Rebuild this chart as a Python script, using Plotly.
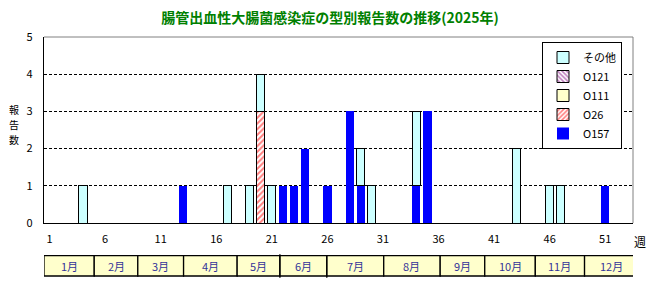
import plotly.graph_objects as go

# ---------------- data ----------------
weeks = list(range(1, 54))
tick_weeks = [1, 6, 11, 16, 21, 26, 31, 36, 41, 46, 51]

o157 = [0, 0, 0, 0, 0, 0, 0, 0, 0, 0,   # 1-10
        0, 0, 1, 0, 0, 0, 0, 0, 0, 0,   # 11-20
        0, 1, 1, 2, 0, 1, 0, 3, 1, 0,   # 21-30
        0, 0, 0, 1, 3, 0, 0, 0, 0, 0,   # 31-40
        0, 0, 0, 0, 0, 0, 0, 0, 0, 0,   # 41-50
        1, 0, 0]                        # 51-53
o26 = [0, 0, 0, 0, 0, 0, 0, 0, 0, 0,
       0, 0, 0, 0, 0, 0, 0, 0, 0, 3,
       0, 0, 0, 0, 0, 0, 0, 0, 0, 0,
       0, 0, 0, 0, 0, 0, 0, 0, 0, 0,
       0, 0, 0, 0, 0, 0, 0, 0, 0, 0,
       0, 0, 0]
o111 = [0] * 53
o121 = [0] * 53
other = [0, 0, 0, 1, 0, 0, 0, 0, 0, 0,
         0, 0, 0, 0, 0, 0, 1, 0, 1, 1,
         1, 0, 0, 0, 0, 0, 0, 0, 1, 1,
         0, 0, 0, 2, 0, 0, 0, 0, 0, 0,
         0, 0, 2, 0, 0, 1, 1, 0, 0, 0,
         0, 0, 0]

months = ["1月", "2月", "3月", "4月", "5月", "6月",
          "7月", "8月", "9月", "10月", "11月", "12月"]
# month cell edges expressed in week units
month_edges = [0.5, 5.02, 8.94, 13.06, 17.88, 21.73, 25.95,
               31.07, 36.15, 40.16, 44.71, 49.14, 53.92]

title = "腸管出血性大腸菌感染症の型別報告数の推移(2025年)"
y_title = "報告数"
x_title = "週"
FONT = "Noto Sans CJK JP"

# plot-area geometry in pixels (for placing free text)
L, T, W, H = 44, 37, 589, 186


def px_x(px):
    return (px - L) / W


def px_y(py):
    return (T + H - py) / H


def nz(vals):
    return [v if v else None for v in vals]


fig = go.Figure()
series = [
    ("O157", o157, dict(color="#0000FF", line=dict(color="#0000FF", width=0))),
    ("O26", o26, dict(color="#FFFFFF", line=dict(color="black", width=1),
                      pattern=dict(shape="/", fgcolor="#FF0000", bgcolor="#FFFFFF",
                                   size=4, solidity=0.5))),
    ("O111", o111, dict(color="#FFFFCC", line=dict(color="black", width=1))),
    ("O121", o121, dict(color="#FFFFFF", line=dict(color="black", width=1),
                        pattern=dict(shape="\\", fgcolor="#800080", bgcolor="#FFFFFF",
                                     size=4, solidity=0.5))),
    ("その他", other, dict(color="#CCFFFF", line=dict(color="black", width=1))),
]
for name, vals, marker in series:
    fig.add_trace(go.Bar(x=weeks, y=nz(vals), name=name, marker=marker,
                         hoverinfo="x+y+name"))

shapes = []
# plot border (top / right) in gray
shapes.append(dict(type="line", xref="paper", yref="paper", x0=0, x1=1, y0=1, y1=1,
                   line=dict(color="#808080", width=1), layer="above"))
shapes.append(dict(type="line", xref="paper", yref="paper", x0=1, x1=1, y0=0, y1=1,
                   line=dict(color="#808080", width=1), layer="above"))

# month table
ty0, ty1 = px_y(276), px_y(255.7)
for i, m in enumerate(months):
    x0, x1 = month_edges[i], month_edges[i + 1]
    shapes.append(dict(type="rect", xref="x", yref="paper", x0=x0, x1=x1, y0=ty0, y1=ty1,
                       fillcolor="#FFFFCC", line=dict(color="black", width=1.3)))
shapes.append(dict(type="line", xref="x", yref="paper", x0=month_edges[5], x1=month_edges[5],
                   y0=px_y(278), y1=px_y(254), line=dict(color="black", width=1)))
shapes.append(dict(type="line", xref="x", yref="paper", x0=month_edges[6], x1=month_edges[6],
                   y0=px_y(278), y1=ty1, line=dict(color="black", width=1)))

annotations = []
for i, m in enumerate(months):
    annotations.append(dict(x=(month_edges[i] + month_edges[i + 1]) / 2, y=px_y(266),
                            xref="x", yref="paper", text=m, showarrow=False,
                            xanchor="center", yanchor="middle",
                            font=dict(family=FONT, size=11, color="#333399")))
# y-axis title, stacked vertically (one character per line)
for ch, py in zip(y_title, (109, 124, 139)):
    annotations.append(dict(x=px_x(14), y=px_y(py), xref="paper", yref="paper", text=ch,
                            showarrow=False, xanchor="center", yanchor="middle",
                            font=dict(family=FONT, size=10, color="black")))
annotations.append(dict(x=px_x(640), y=px_y(242), xref="paper", yref="paper",
                        text=x_title, showarrow=False, xanchor="center", yanchor="middle",
                        font=dict(family=FONT, size=12, color="black")))

fig.update_layout(
    width=655, height=287,
    margin=dict(l=L, r=655 - L - W, t=T, b=287 - T - H),
    paper_bgcolor="white", plot_bgcolor="white",
    barmode="stack", bargap=0.26,
    font=dict(family=FONT, size=11, color="black"),
    title=dict(text="<b>" + title + "</b>", x=330 / 655, xanchor="center",
               y=1 - 18 / 287, yanchor="middle", yref="container",
               font=dict(family=FONT, size=14, color="#008000")),
    showlegend=True,
    legend=dict(x=px_x(622), xanchor="right", y=px_y(42), yanchor="top",
                traceorder="reversed", bgcolor="white", bordercolor="black", borderwidth=1,
                font=dict(family=FONT, size=11, color="black"),
                itemwidth=30, tracegroupgap=0),
    xaxis=dict(range=[0.5, 53.5], tickmode="array", tickvals=tick_weeks,
               ticktext=[str(w) for w in tick_weeks], ticks="", showgrid=False,
               showline=True, linecolor="black", linewidth=1.3, zeroline=False,
               ticklabelstandoff=6, tickfont=dict(size=11), fixedrange=True),
    xaxis2=dict(range=[0.5, 53.5], overlaying="x", anchor="y", side="bottom",
                tickmode="array", tickvals=[w + 0.5 for w in weeks[:-1]],
                ticks="inside", ticklen=3, tickcolor="black", tickwidth=1,
                showticklabels=False, showgrid=False, showline=False, zeroline=False),
    yaxis=dict(range=[0, 5], dtick=1, showgrid=True, gridcolor="black", gridwidth=1,
               griddash="3px,2px", showline=True, linecolor="black", linewidth=1.3,
               zeroline=False, ticks="", ticklabelstandoff=8, tickfont=dict(size=11)),
    shapes=shapes, annotations=annotations,
)

fig.write_html("out.html")
